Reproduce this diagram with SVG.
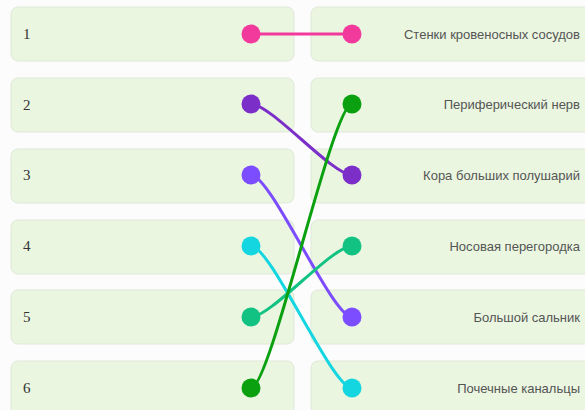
<svg xmlns="http://www.w3.org/2000/svg" width="585" height="410" viewBox="0 0 585 410">
<style>
.box{fill:#eaf6e0;stroke:#dfe8d8;stroke-width:1}
.num{font-family:"Liberation Serif",serif;font-size:15px;fill:#333}
.lbl{font-family:"Liberation Sans",Arial,sans-serif;font-size:13px;fill:#555;text-anchor:end}
.c{fill:none;stroke-width:3;stroke-linecap:round}
</style>
<rect width="585" height="410" fill="#fcfcfc"/>
<g id="left-1"><rect class="box" x="11" y="7" width="283" height="54" rx="7"/><text class="num" x="23" y="39">1</text></g>
<g id="left-2"><rect class="box" x="11" y="78" width="283" height="54" rx="7"/><text class="num" x="23" y="110">2</text></g>
<g id="left-3"><rect class="box" x="11" y="149" width="283" height="54" rx="7"/><text class="num" x="23" y="180">3</text></g>
<g id="left-4"><rect class="box" x="11" y="220" width="283" height="54" rx="7"/><text class="num" x="23" y="251">4</text></g>
<g id="left-5"><rect class="box" x="11" y="290" width="283" height="54" rx="7"/><text class="num" x="23" y="322">5</text></g>
<g id="left-6"><rect class="box" x="11" y="361" width="283" height="54" rx="7"/><text class="num" x="23" y="393">6</text></g>
<g id="right-1"><rect class="box" x="311" y="7" width="290" height="54" rx="7"/><text class="lbl" x="580" y="38.5">Стенки кровеносных сосудов</text></g>
<g id="right-2"><rect class="box" x="311" y="78" width="290" height="54" rx="7"/><text class="lbl" x="580" y="108.5">Периферический нерв</text></g>
<g id="right-3"><rect class="box" x="311" y="149" width="290" height="54" rx="7"/><text class="lbl" x="580" y="179.5">Кора больших полушарий</text></g>
<g id="right-4"><rect class="box" x="311" y="220" width="290" height="54" rx="7"/><text class="lbl" x="580" y="250.5">Носовая перегородка</text></g>
<g id="right-5"><rect class="box" x="311" y="290" width="290" height="54" rx="7"/><text class="lbl" x="580" y="321.5">Большой сальник</text></g>
<g id="right-6"><rect class="box" x="311" y="361" width="290" height="54" rx="7"/><text class="lbl" x="580" y="392.5">Почечные канальцы</text></g>
<g id="connectors">
<path class="c" stroke="#f23a9c" d="M251,34 L352,34"/>
<path class="c" stroke="#7b2fc8" d="M251,104 C271,104 332,175 352,175"/>
<path class="c" stroke="#7c4dff" d="M251,175 C271,175 332,317 352,317"/>
<path class="c" stroke="#14d6e0" d="M251,246 C271,246 332,388 352,388"/>
<path class="c" stroke="#12c283" d="M251,317 C271,317 332,246 352,246"/>
<path class="c" stroke="#0aa010" d="M251,388 C271,388 332,104 352,104"/>
<circle cx="251" cy="34" r="9.5" fill="#f23a9c"/><circle cx="352" cy="34" r="9.5" fill="#f23a9c"/>
<circle cx="251" cy="104" r="9.5" fill="#7b2fc8"/><circle cx="352" cy="175" r="9.5" fill="#7b2fc8"/>
<circle cx="251" cy="175" r="9.5" fill="#7c4dff"/><circle cx="352" cy="317" r="9.5" fill="#7c4dff"/>
<circle cx="251" cy="246" r="9.5" fill="#14d6e0"/><circle cx="352" cy="388" r="9.5" fill="#14d6e0"/>
<circle cx="251" cy="317" r="9.5" fill="#12c283"/><circle cx="352" cy="246" r="9.5" fill="#12c283"/>
<circle cx="251" cy="388" r="9.5" fill="#0aa010"/><circle cx="352" cy="104" r="9.5" fill="#0aa010"/>
</g>
</svg>
